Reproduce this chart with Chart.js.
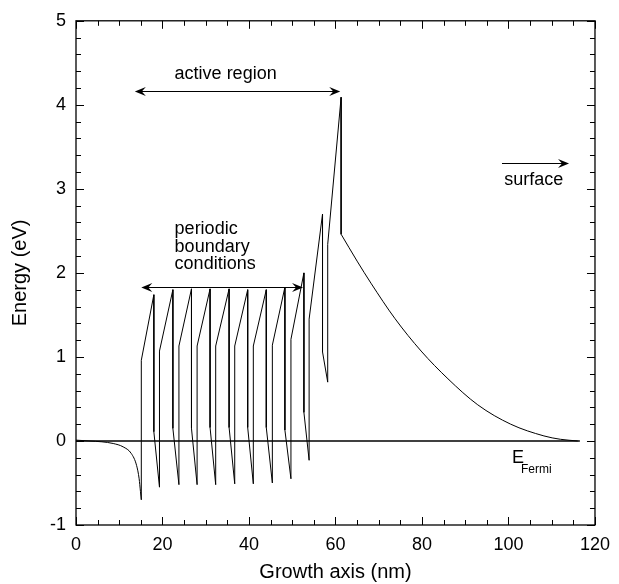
<!DOCTYPE html>
<html>
<head>
<meta charset="utf-8">
<title>Band diagram</title>
<script src="https://cdn.jsdelivr.net/npm/chart.js@4.4.0/dist/chart.umd.min.js"></script>
<style>
  body { margin: 0; background: #fff; }
</style>
</head>
<body>
<canvas id="bandChart" width="619" height="584"></canvas>
<script>
// band bending in front of the active region (nm, eV)
var bendX = [0, 3, 6, 8.6, 10.9, 12.8, 14.0, 14.6, 14.9, 15.1];
var bendE = [0.01, 0.0, -0.01, -0.03, -0.07, -0.15, -0.29, -0.45, -0.60, -0.70];

// quantum wells / barriers, with the steps at the interfaces
var wellX = [15.1, 15.1, 18.0, 18.0, 19.3,
             19.3, 22.4, 22.4, 23.8,
             23.8, 26.7, 26.7, 28.0,
             28.0, 31.0, 31.0, 32.3,
             32.3, 35.4, 35.4, 36.7,
             36.7, 39.7, 39.7, 41.0,
             41.0, 44.0, 44.0, 45.4,
             45.4, 48.3, 48.3, 49.7,
             49.7, 52.7, 52.7, 53.9,
             53.9, 57.0, 57.0, 58.2,
             58.2, 61.3, 61.3];
var wellE = [-0.70, 0.96, 1.74, 0.11, -0.55,
             1.07, 1.80, 0.15, -0.52,
             1.13, 1.81, 0.15, -0.52,
             1.13, 1.81, 0.16, -0.52,
             1.13, 1.81, 0.16, -0.51,
             1.13, 1.80, 0.16, -0.51,
             1.13, 1.80, 0.16, -0.50,
             1.14, 1.83, 0.13, -0.45,
             1.21, 2.00, 0.34, -0.23,
             1.45, 2.70, 1.06, 0.70,
             2.34, 4.09, 2.46];

// cap layer towards the surface
var capX = [61.3, 65.0, 68.3, 73.7, 79.8, 86.0, 92.9, 100.5, 108.2, 112.0, 116.0];
var capE = [2.46, 2.14, 1.87, 1.46, 1.07, 0.74, 0.43, 0.20, 0.06, 0.02, 0.0];

var fermiX = [0, 116.5];
var fermiE = [0, 0];

var xTicks = [0, 20, 40, 60, 80, 100, 120];
var yTicks = [-1, 0, 1, 2, 3, 4, 5];

// arrows and labels drawn on top, in data units
var arrows = [
  {x1: 13.6, x2: 61.1, y: 4.16, both: true},
  {x1: 15.1, x2: 52.5, y: 1.83, both: true},
  {x1: 98.5, x2: 114.0, y: 3.31, both: false}
];
var notes = [
  {text: 'active region', x: 22.8, y: 4.37},
  {text: 'periodic', x: 22.8, y: 2.52},
  {text: 'boundary', x: 22.8, y: 2.31},
  {text: 'conditions', x: 22.8, y: 2.10},
  {text: 'surface', x: 99.0, y: 3.11}
];

var FONT = "'Liberation Sans', Arial, Helvetica, sans-serif";

function toPoints(xs, ys) {
    var pts = new Array();
    for (var i = 0; i < xs.length; i++) {
        pts.push({x: xs[i], y: ys[i]});
    }
    return pts;
}

function arrowHead(ctx, tx, ty, dir) {
    ctx.beginPath();
    ctx.moveTo(tx, ty);
    ctx.lineTo(tx - dir * 11, ty - 4.5);
    ctx.lineTo(tx - dir * 7, ty);
    ctx.lineTo(tx - dir * 11, ty + 4.5);
    ctx.closePath();
    ctx.fill();
}

var frameAndNotes = {
    id: 'frameAndNotes',
    afterDatasetsDraw: function(chart) {
        var ctx = chart.ctx;
        var a = chart.chartArea;
        var xs = chart.scales.x;
        var ys = chart.scales.y;
        ctx.save();
        ctx.strokeStyle = '#000';
        ctx.fillStyle = '#000';

        // inward ticks on all four sides
        ctx.lineWidth = 1;
        ctx.beginPath();
        for (var i = 0; i <= 24; i++) {
            var px = Math.round(xs.getPixelForValue(i * 5)) + 0.5;
            var len = (i % 4 === 0) ? 8 : 5;
            ctx.moveTo(px, a.bottom); ctx.lineTo(px, a.bottom - len);
            ctx.moveTo(px, a.top); ctx.lineTo(px, a.top + len);
        }
        for (var j = -5; j <= 25; j++) {
            var py = Math.round(ys.getPixelForValue(j / 5)) + 0.5;
            var l2 = (j % 5 === 0) ? 8 : 5;
            ctx.moveTo(a.left, py); ctx.lineTo(a.left + l2, py);
            ctx.moveTo(a.right, py); ctx.lineTo(a.right - l2, py);
        }
        ctx.stroke();

        ctx.lineWidth = 1.3;
        ctx.strokeRect(a.left, a.top, a.right - a.left, a.bottom - a.top);

        // arrows
        ctx.lineWidth = 1;
        for (var k = 0; k < arrows.length; k++) {
            var ar = arrows[k];
            var x1 = xs.getPixelForValue(ar.x1);
            var x2 = xs.getPixelForValue(ar.x2);
            var y = Math.round(ys.getPixelForValue(ar.y)) + 0.5;
            ctx.beginPath();
            ctx.moveTo(x1 + (ar.both ? 6 : 0), y);
            ctx.lineTo(x2 - 6, y);
            ctx.stroke();
            arrowHead(ctx, x2, y, 1);
            if (ar.both) arrowHead(ctx, x1, y, -1);
        }

        // text labels
        ctx.font = '18px ' + FONT;
        ctx.textAlign = 'left';
        ctx.textBaseline = 'middle';
        for (var n of notes) {
            ctx.fillText(n.text, xs.getPixelForValue(n.x), ys.getPixelForValue(n.y));
        }
        var ex = xs.getPixelForValue(100.8);
        var ey = ys.getPixelForValue(-0.2);
        ctx.fillText('E', ex, ey);
        ctx.font = '12px ' + FONT;
        ctx.fillText('Fermi', ex + 9, ey + 12);
        ctx.restore();
    }
};

var ctx = document.getElementById('bandChart').getContext('2d');
var bandChart = new Chart(ctx, {
    type: 'scatter',
    data: {
        datasets: [
            {label: 'Fermi', data: toPoints(fermiX, fermiE), borderColor: '#000', borderWidth: 1.5},
            {label: 'bend', data: toPoints(bendX, bendE), borderColor: '#000', borderWidth: 1, cubicInterpolationMode: 'monotone'},
            {label: 'wells', data: toPoints(wellX, wellE), borderColor: '#000', borderWidth: 1, tension: 0},
            {label: 'cap', data: toPoints(capX, capE), borderColor: '#000', borderWidth: 1, cubicInterpolationMode: 'monotone'}
        ]
    },
    options: {
        responsive: false,
        devicePixelRatio: 1,
        animation: false,
        showLine: true,
        elements: {point: {radius: 0, hoverRadius: 0}},
        layout: {padding: {top: 16, right: 21, left: 0, bottom: 0}},
        plugins: {legend: {display: false}, tooltip: {enabled: false}},
        scales: {
            x: {
                type: 'linear', min: 0, max: 120,
                afterBuildTicks: function(s) { s.ticks = xTicks.map(function(v) { return {value: v}; }); },
                afterFit: function(s) { s.height = 59; },
                grid: {display: false, drawTicks: false},
                border: {display: false},
                ticks: {color: '#000', font: {family: FONT, size: 18}, padding: 9, maxRotation: 0},
                title: {display: true, text: 'Growth axis (nm)', color: '#000', font: {family: FONT, size: 20}, padding: {top: 1, bottom: 0}}
            },
            y: {
                type: 'linear', min: -1, max: 5,
                afterBuildTicks: function(s) { s.ticks = yTicks.map(function(v) { return {value: v}; }); },
                afterFit: function(s) { s.width = 76; },
                grid: {display: false, drawTicks: false},
                border: {display: false},
                ticks: {color: '#000', font: {family: FONT, size: 18}, padding: 10},
                title: {display: true, text: 'Energy (eV)', color: '#000', font: {family: FONT, size: 20}, padding: {top: 8, bottom: 0}}
            }
        }
    },
    plugins: [frameAndNotes]
});
</script>
</body>
</html>
